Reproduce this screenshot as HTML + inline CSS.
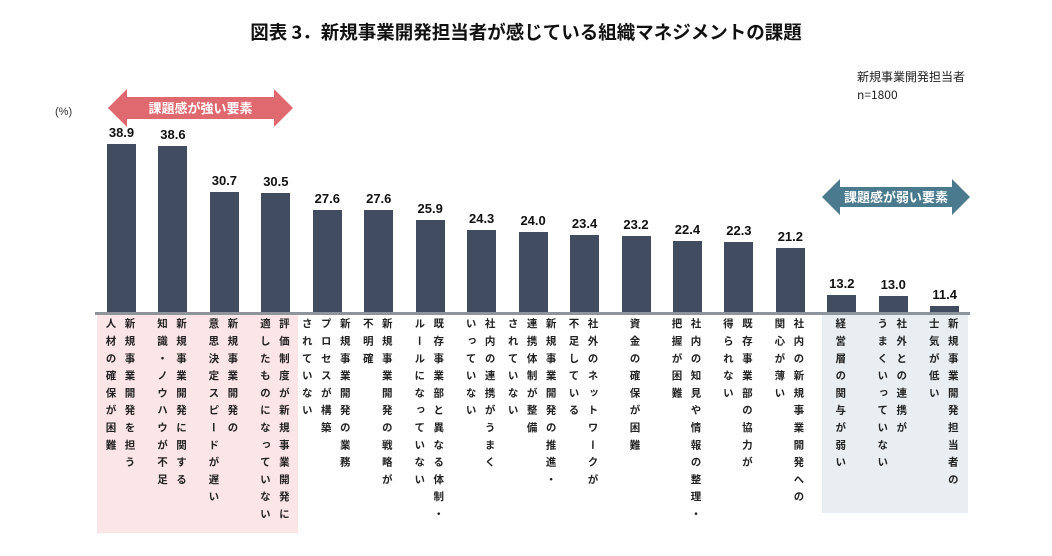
<!DOCTYPE html>
<html><head><meta charset="utf-8"><style>
body{margin:0;width:1052px;height:556px;background:#fff;position:relative;overflow:hidden;font-family:"Liberation Sans","Noto Sans CJK JP",sans-serif;}
.abs{position:absolute}
.bar{position:absolute;background:#414c60;width:29px}
.val{position:absolute;width:60px;text-align:center;font-weight:bold;font-size:13px;color:#111}
.lab{position:absolute;top:318px;writing-mode:vertical-rl;text-orientation:upright;font-size:10.5px;font-weight:bold;line-height:19px;letter-spacing:6.8px;color:#222;font-family:"Noto Sans CJK JP",sans-serif;}
</style></head><body>
<div class="abs" style="left:0;width:1052px;top:19px;text-align:center;font-size:18.5px;font-weight:bold;color:#111;font-family:'Noto Sans CJK JP',sans-serif">図表 3．新規事業開発担当者が感じている組織マネジメントの課題</div>
<div class="abs" style="left:857px;top:68px;font-size:12px;color:#222;line-height:18px;font-family:'Noto Sans CJK JP',sans-serif">新規事業開発担当者<br>n=1800</div>
<div class="abs" style="left:55px;top:106px;font-size:11px;color:#333">(%)</div>
<div class="abs" style="left:97px;top:315px;width:201px;height:218px;background:#fbe5e6"></div>
<div class="abs" style="left:822px;top:315px;width:146px;height:198px;background:#e9eef2"></div>
<svg class="abs" style="left:0;top:0" width="1052" height="556">
<polygon points="108,108 127,89 127,97 274,97 274,89 293,108 274,127 274,119 127,119 127,127" fill="#e0686f"/>
<polygon points="822,197 840,179 840,187 952,187 952,179 970,197 952,215 952,207 840,207 840,215" fill="#4a7a8d"/>
<rect x="95" y="312" width="875" height="3" fill="#8e949c"/>
</svg>
<div class="abs" style="left:127px;top:98px;width:147px;text-align:center;color:#fff;font-size:13px;font-weight:bold;font-family:'Noto Sans CJK JP',sans-serif;line-height:20px">課題感が強い要素</div>
<div class="abs" style="left:840px;top:187px;width:112px;text-align:center;color:#fff;font-size:13px;font-weight:bold;font-family:'Noto Sans CJK JP',sans-serif;line-height:20px">課題感が弱い要素</div>
<div id="c"></div>
<script>
var d=[[38.9,"新規事業開発を担う<br>人材の確保が困難"],[38.6,"新規事業開発に関する<br>知識・ノウハウが不足"],[30.7,"新規事業開発の<br>意思決定スピードが遅い"],[30.5,"評価制度が新規事業開発に<br>適したものになっていない"],[27.6,"新規事業開発の業務<br>プロセスが構築<br>されていない"],[27.6,"新規事業開発の戦略が<br>不明確"],[25.9,"既存事業部と異なる体制・<br>ルールになっていない"],[24.3,"社内の連携がうまく<br>いっていない"],[24.0,"新規事業開発の推進・<br>連携体制が整備<br>されていない"],[23.4,"社外のネットワークが<br>不足している"],[23.2,"資金の確保が困難"],[22.4,"社内の知見や情報の整理・<br>把握が困難"],[22.3,"既存事業部の協力が<br>得られない"],[21.2,"社内の新規事業開発への<br>関心が薄い"],[13.2,"経営層の関与が弱い"],[13.0,"社外との連携が<br>うまくいっていない"],[11.4,"新規事業開発担当者の<br>士気が低い"]];
var h="";
d.forEach(function(e,i){var cx=121.5+i*51.45;var hh=(e[0]-10.3)*5.875;var top=312-hh;
h+='<div class="bar" style="left:'+(cx-14.5)+'px;top:'+top+'px;height:'+hh+'px"></div>';
h+='<div class="val" style="left:'+(cx-30)+'px;top:'+(top-19)+'px">'+e[0].toFixed(1)+'</div>';
var n=e[1].split("<br>").length;var w=n*19;
h+='<div class="lab" style="left:'+(cx-w/2-1)+'px;width:'+w+'px">'+e[1]+'</div>';});
document.getElementById("c").innerHTML=h;
</script>
</body></html>
